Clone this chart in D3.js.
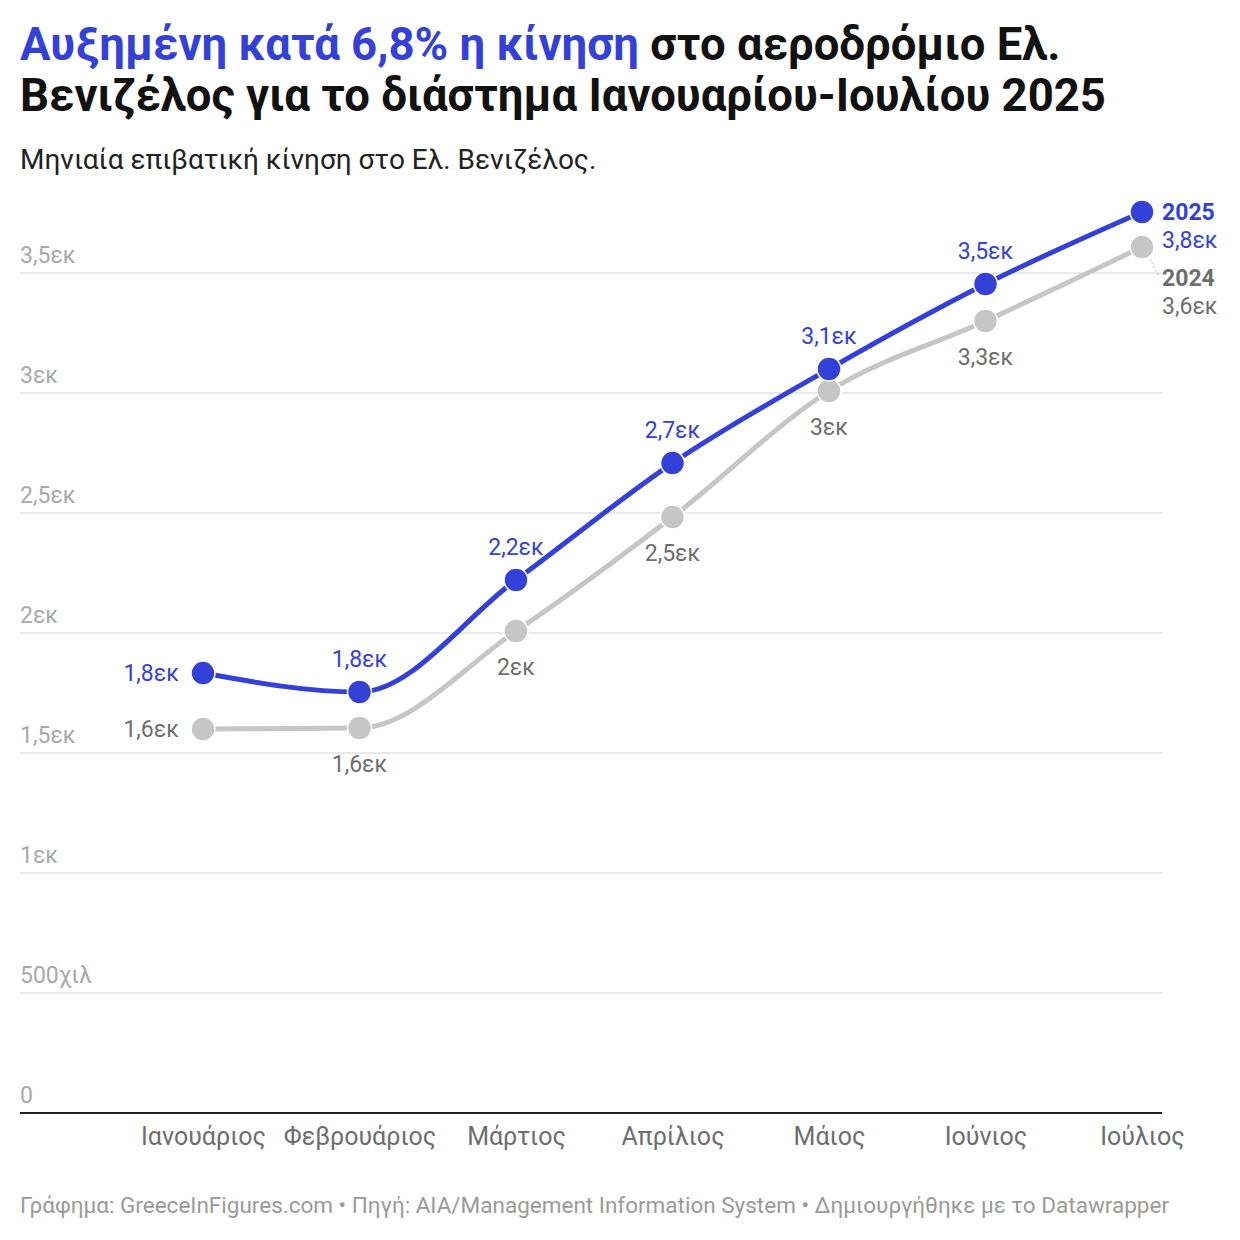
<!DOCTYPE html>
<meta charset="utf-8">
<style>
	body { margin: 0; background: #fff; font-family: Roboto, "Noto Sans", sans-serif; }
	svg { display: block; font-family: Roboto, sans-serif; }
</style>
<body></body>
<script src="https://d3js.org/d3.v7.min.js"></script>
<script>
	// data
	var months = ["Ιανουάριος", "Φεβρουάριος", "Μάρτιος", "Απρίλιος", "Μάιος", "Ιούνιος", "Ιούλιος"];
	var values2025 = [1833, 1754, 2221, 2708, 3100, 3454, 3754];
	var values2024 = [1600, 1604, 2008, 2483, 3008, 3300, 3608];
	var labels2025 = ["1,8εκ", "1,8εκ", "2,2εκ", "2,7εκ", "3,1εκ", "3,5εκ", "3,8εκ"];
	var labels2024 = ["1,6εκ", "1,6εκ", "2εκ", "2,5εκ", "3εκ", "3,3εκ", "3,6εκ"];
	var yTicks = [0, 500, 1000, 1500, 2000, 2500, 3000, 3500];
	var yTickLabels = ["0", "500χιλ", "1εκ", "1,5εκ", "2εκ", "2,5εκ", "3εκ", "3,5εκ"];

	var blue = "#3441d9", grey = "#c6c6c6", greyText = "#6e6e6e";

	var svg = d3.select("body").append("svg").attr("width", 1240).attr("height", 1240);

	// title
	var t1 = svg.append("text").attr("x", 20).attr("y", 60).attr("font-size", 45.5).attr("font-weight", 700).attr("fill", "#111");
	t1.append("tspan").attr("fill", blue).text("Αυξημένη κατά 6,8% η κίνηση");
	t1.append("tspan").text(" στο αεροδρόμιο Ελ.");
	svg.append("text").attr("x", 20).attr("y", 111).attr("font-size", 45.5).attr("font-weight", 700).attr("fill", "#111")
		.text("Βενιζέλος για το διάστημα Ιανουαρίου-Ιουλίου 2025");
	svg.append("text").attr("x", 20).attr("y", 169).attr("font-size", 28).attr("fill", "#222")
		.text("Μηνιαία επιβατική κίνηση στο Ελ. Βενιζέλος.");

	var left = 20, right = 1162;
	var x = d3.scalePoint().domain(months).range([203, 1142]);
	var y = d3.scaleLinear().domain([0, 3500]).range([1113, 273]);

	// grid
	var g = svg.append("g");
	g.selectAll("line.grid").data(yTicks.slice(1)).enter().append("line")
		.attr("x1", left).attr("x2", right)
		.attr("y1", function(d) { return y(d); }).attr("y2", function(d) { return y(d); })
		.attr("stroke", "#e2e2e2").attr("stroke-width", 1.5);
	g.selectAll("text.tick").data(yTicks).enter().append("text")
		.attr("x", left).attr("y", function(d) { return y(d) - 10; })
		.attr("font-size", 23).attr("fill", "#a9a9a9")
		.text(function(d, i) { return yTickLabels[i]; });
	g.append("line").attr("x1", left).attr("x2", right).attr("y1", y(0)).attr("y2", y(0))
		.attr("stroke", "#222").attr("stroke-width", 2);

	// x axis
	var xAxis = d3.axisBottom(x).tickSize(0).tickPadding(14);
	var ax = svg.append("g").attr("transform", "translate(0," + y(0) + ")").call(xAxis);
	ax.select(".domain").remove();
	ax.selectAll("text").attr("font-size", 25).attr("fill", "#6e6e6e").attr("font-family", "Roboto");

	var line = d3.line().curve(d3.curveMonotoneX)
		.x(function(d, i) { return x(months[i]); })
		.y(function(d) { return y(d); });

	function series(vals, color) {
		svg.append("path").datum(vals).attr("d", line).attr("fill", "none")
			.attr("stroke", color).attr("stroke-width", 5);
		svg.selectAll(null).data(vals).enter().append("circle")
			.attr("cx", function(d, i) { return x(months[i]); })
			.attr("cy", function(d) { return y(d); })
			.attr("r", 12).attr("fill", color).attr("stroke", "#fff").attr("stroke-width", 1.5);
	}
	series(values2024, grey);
	series(values2025, blue);

	// value labels
	svg.selectAll(null).data(values2025).enter().append("text")
		.attr("font-size", 23).attr("fill", blue)
		.attr("x", function(d, i) { return i === 0 ? x(months[i]) - 24 : i === 6 ? x(months[i]) + 20 : x(months[i]); })
		.attr("y", function(d, i) { return i === 0 ? y(d) + 8 : i === 6 ? y(d) + 36 : y(d) - 25; })
		.attr("text-anchor", function(d, i) { return i === 0 ? "end" : i === 6 ? "start" : "middle"; })
		.text(function(d, i) { return labels2025[i]; });
	svg.selectAll(null).data(values2024).enter().append("text")
		.attr("font-size", 23).attr("fill", greyText)
		.attr("x", function(d, i) { return i === 0 ? x(months[i]) - 24 : i === 6 ? x(months[i]) + 20 : x(months[i]); })
		.attr("y", function(d, i) { return i === 0 ? y(d) + 8 : i === 6 ? y(d) + 67 : y(d) + 44; })
		.attr("text-anchor", function(d, i) { return i === 0 ? "end" : i === 6 ? "start" : "middle"; })
		.text(function(d, i) { return labels2024[i]; });

	// series names
	var last = months[6];
	svg.append("text").attr("x", x(last) + 20).attr("y", y(values2025[6]) + 8)
		.attr("font-size", 23).attr("font-weight", 700).attr("fill", blue).text("2025");
	svg.append("text").attr("x", x(last) + 20).attr("y", y(values2024[6]) + 39)
		.attr("font-size", 23).attr("font-weight", 700).attr("fill", greyText).text("2024");
	svg.append("line").attr("x1", x(last) + 8).attr("y1", y(values2024[6]) + 12)
		.attr("x2", x(last) + 16).attr("y2", y(values2024[6]) + 28)
		.attr("stroke", "#bbb").attr("stroke-dasharray", "2,2");

	// footer
	svg.append("text").attr("x", 20).attr("y", 1213).attr("font-size", 22.5).attr("fill", "#9a9a9a")
		.text("Γράφημα: GreeceInFigures.com • Πηγή: AIA/Management Information System • Δημιουργήθηκε με το Datawrapper");
</script>
